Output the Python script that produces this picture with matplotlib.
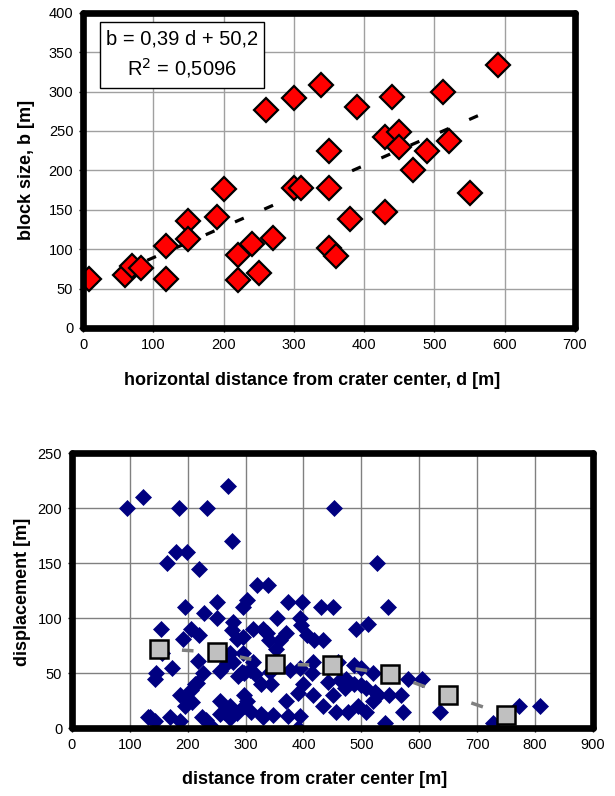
import matplotlib
matplotlib.use("Agg")
import matplotlib.pyplot as plt
from matplotlib.patches import Rectangle
import numpy as np

plt.rcParams['font.family'] = ['Liberation Sans', 'DejaVu Sans']

# --- top chart: block size vs distance ---
dist_top = [8, 60, 70, 82, 118, 118, 150, 150, 190, 200,
            220, 220, 240, 250, 270, 260, 300, 300, 310, 338,
            350, 350, 350, 360, 380, 390, 440, 512, 590, 430,
            450, 450, 490, 520, 470, 430, 550]
block_top = [62, 67, 78, 76, 104, 62, 136, 113, 141, 176,
             92, 61, 107, 70, 114, 276, 292, 178, 178, 308,
             224, 178, 101, 91, 138, 281, 293, 300, 334, 242,
             249, 230, 224, 237, 201, 147, 171]
slope, intercept = 0.39, 50.2
top_xticks = [0, 100, 200, 300, 400, 500, 600, 700]
top_yticks = [0, 50, 100, 150, 200, 250, 300, 350, 400]

# --- bottom chart: displacement vs distance ---
dist_bot = [95, 122, 185, 233, 270, 277, 180, 198, 165, 220,
            320, 338, 453, 527, 195, 228, 250, 302, 295, 373,
            398, 430, 451, 546, 250, 278, 354, 394, 511, 490,
            396, 276, 153, 205, 220, 192, 312, 330, 296, 340,
            370, 360, 406, 418, 434, 337, 155, 146, 144, 173,
            227, 218, 256, 268, 278, 273, 296, 293, 307, 312,
            298, 316, 326, 344, 342, 352, 376, 394, 416, 414,
            400, 390, 416, 442, 451, 287, 212, 205, 216, 187,
            197, 207, 195, 256, 273, 298, 302, 135, 143, 131,
            170, 186, 224, 232, 240, 256, 273, 263, 285, 298,
            309, 326, 347, 373, 394, 390, 370, 433, 456, 330,
            487, 500, 520, 580, 605, 487, 508, 528, 548, 568,
            520, 494, 508, 477, 572, 636, 541, 473, 772, 808,
            727, 463, 471, 500, 523, 460, 285]
disp_bot = [200, 210, 200, 200, 220, 170, 160, 160, 150, 145,
            130, 130, 200, 150, 110, 105, 115, 116, 110, 115,
            115, 110, 110, 110, 100, 96, 100, 100, 95, 90,
            94, 89, 90, 90, 85, 81, 90, 90, 83, 80,
            86, 80, 85, 80, 80, 86, 68, 50, 45, 55,
            50, 61, 52, 59, 60, 68, 68, 51, 53, 60,
            50, 49, 40, 40, 51, 72, 53, 55, 60, 50,
            40, 32, 30, 42, 30, 47, 40, 35, 41, 30,
            27, 24, 20, 25, 20, 30, 25, 10, 6, 10,
            10, 6, 10, 7, 2, 13, 9, 15, 14, 20,
            15, 13, 12, 11, 11, 0, 25, 20, 15, 10,
            57, 55, 50, 45, 45, 40, 36, 30, 30, 30,
            25, 20, 15, 15, 15, 15, 5, 45, 20, 20,
            5, 44, 36, 39, 33, 60, 81]
dist_mean = [150, 250, 350, 450, 550, 650, 750]
disp_mean = [72, 69, 58, 57, 49, 30, 12]
bot_xticks = [0, 100, 200, 300, 400, 500, 600, 700, 800, 900]
bot_yticks = [0, 50, 100, 150, 200, 250]

fig = plt.figure(figsize=(6.15, 7.96), dpi=100)

ax1 = fig.add_axes([0.135, 0.588, 0.8, 0.396])
ax1.set_xlim(0, 700)
ax1.set_ylim(0, 400)
ax1.set_xticks(top_xticks)
ax1.set_yticks(top_yticks)
ax1.grid(True, color='#a0a0a0', lw=1.0, zorder=0)
ax1.set_axisbelow(True)

d_line = np.array([min(dist_top), max(dist_top)])
ax1.plot(d_line, slope * d_line + intercept, color='black', lw=2.3,
         linestyle=(0, (3, 7)), zorder=2)
ax1.plot(dist_top, block_top, 'D', ms=12, mfc='red', mec='black',
         mew=1.6, ls='none', zorder=3)

ax1.add_patch(Rectangle((0.035, 0.762), 0.333, 0.209, transform=ax1.transAxes,
                        fc='white', ec='black', lw=1.0, zorder=4))
ax1.text(0.201, 0.917, 'b = 0,39 d + 50,2', transform=ax1.transAxes,
         ha='center', va='center', fontsize=14.5, zorder=5)
ax1.text(0.201, 0.823, 'R$^2$ = 0,5096', transform=ax1.transAxes,
         ha='center', va='center', fontsize=14.5, zorder=5)

ax1.set_xlabel('horizontal distance from crater center, d [m]',
               fontsize=13, fontweight='bold')
ax1.set_ylabel('block size, b [m]', fontsize=13, fontweight='bold')
ax1.xaxis.set_label_coords(0.465, -0.168)
ax1.yaxis.set_label_coords(-0.115, 0.5)
ax1.xaxis.label.set_va('center')
ax1.yaxis.label.set_va('center')

ax2 = fig.add_axes([0.117, 0.0854, 0.847, 0.3455])
ax2.set_xlim(0, 900)
ax2.set_ylim(0, 250)
ax2.set_xticks(bot_xticks)
ax2.set_yticks(bot_yticks)
ax2.grid(True, color='#808080', lw=1.0, zorder=0)
ax2.set_axisbelow(True)

ax2.plot(dist_bot, disp_bot, 'D', ms=7.8, mfc='#000080', mec='#000080',
         mew=0.5, ls='none', zorder=2)
# short gray dashes between the mean markers
for i in range(len(dist_mean) - 1):
    x0, x1 = dist_mean[i], dist_mean[i + 1]
    y0, y1 = disp_mean[i], disp_mean[i + 1]
    ax2.plot([x0 + 0.4 * (x1 - x0), x0 + 0.6 * (x1 - x0)],
             [y0 + 0.4 * (y1 - y0), y0 + 0.6 * (y1 - y0)],
             color='#808080', lw=2.5, solid_capstyle='butt', zorder=3)
ax2.plot(dist_mean, disp_mean, 's', ms=13, mfc='#c0c0c0', mec='black',
         mew=1.8, ls='none', zorder=4)

ax2.set_xlabel('distance from crater center [m]', fontsize=13, fontweight='bold')
ax2.set_ylabel('displacement [m]', fontsize=13, fontweight='bold')
ax2.xaxis.set_label_coords(0.465, -0.188)
ax2.yaxis.set_label_coords(-0.095, 0.495)
ax2.xaxis.label.set_va('center')
ax2.yaxis.label.set_va('center')

for ax in (ax1, ax2):
    for s in ax.spines.values():
        s.set_linewidth(4.8)
        s.set_capstyle('round')
        s.set_joinstyle('round')
        s.set_zorder(6)
    ax.tick_params(direction='out', length=3, width=1, labelsize=10.5,
                   pad=4, colors='black')
    for lab in ax.get_xticklabels() + ax.get_yticklabels():
        lab.set_clip_on(False)

plt.savefig('out.png', dpi=100)
